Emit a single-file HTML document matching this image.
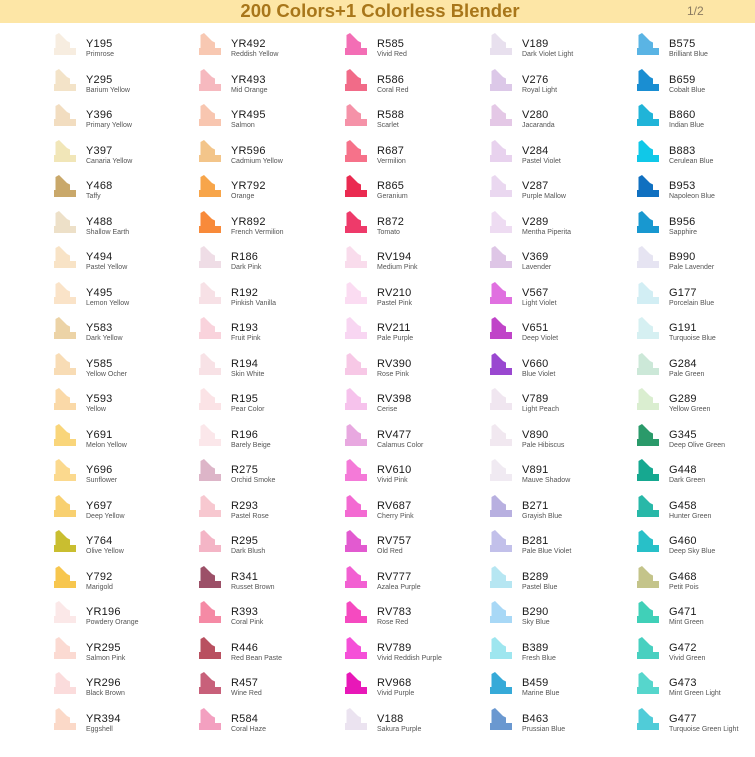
<!DOCTYPE html>
<html><head><meta charset="utf-8"><style>
*{margin:0;padding:0;box-sizing:border-box}
body{width:755px;height:757px;background:#fff;font-family:"Liberation Sans",sans-serif;position:relative;overflow:hidden}
.hd{position:absolute;left:0;top:0;width:755px;height:23px;background:#fde6a6}
.hd h1{position:absolute;left:0;width:760px;top:1px;text-align:center;font-size:18.5px;font-weight:bold;color:#a8761a;line-height:20px}
.hd span{position:absolute;left:687px;top:4px;font-size:12px;color:#8a7a60}
.col{position:absolute;top:33px}
.i{position:relative;height:35.53px}
.i svg{position:absolute;left:0;top:0;width:22px;height:22px}
.i b{position:absolute;left:32px;top:5px;font-size:11px;font-weight:normal;color:#1a1a1a;white-space:nowrap;letter-spacing:.2px}
.i s{position:absolute;left:32px;top:18px;font-size:7px;color:#555;text-decoration:none;white-space:nowrap}
</style></head><body>
<svg width="0" height="0" style="position:absolute"><defs><path id="m" d="M1.5,15 L1.5,2 L5,0 L13,8 L16,9.5 L16,15 L22,15 L22,22 L0,22 L0,15 Z"/></defs></svg>
<div class="hd"><h1>200 Colors+1 Colorless Blender</h1><span>1/2</span></div>

<div class="col" style="left:54px">
<div class="i"><svg fill="#f7ede0"><use href="#m"/></svg><b>Y195</b><s>Primrose</s></div>
<div class="i"><svg fill="#f3e3c8"><use href="#m"/></svg><b>Y295</b><s>Barium Yellow</s></div>
<div class="i"><svg fill="#f2ddc0"><use href="#m"/></svg><b>Y396</b><s>Primary Yellow</s></div>
<div class="i"><svg fill="#f1e6b8"><use href="#m"/></svg><b>Y397</b><s>Canaria Yellow</s></div>
<div class="i"><svg fill="#c9a86a"><use href="#m"/></svg><b>Y468</b><s>Taffy</s></div>
<div class="i"><svg fill="#ede0c8"><use href="#m"/></svg><b>Y488</b><s>Shallow Earth</s></div>
<div class="i"><svg fill="#f8e3c6"><use href="#m"/></svg><b>Y494</b><s>Pastel Yellow</s></div>
<div class="i"><svg fill="#fae3c8"><use href="#m"/></svg><b>Y495</b><s>Lemon Yellow</s></div>
<div class="i"><svg fill="#ecd3a6"><use href="#m"/></svg><b>Y583</b><s>Dark Yellow</s></div>
<div class="i"><svg fill="#f8dcb5"><use href="#m"/></svg><b>Y585</b><s>Yellow Ocher</s></div>
<div class="i"><svg fill="#fad9a8"><use href="#m"/></svg><b>Y593</b><s>Yellow</s></div>
<div class="i"><svg fill="#f9d57a"><use href="#m"/></svg><b>Y691</b><s>Melon Yellow</s></div>
<div class="i"><svg fill="#fbd98e"><use href="#m"/></svg><b>Y696</b><s>Sunflower</s></div>
<div class="i"><svg fill="#f8d070"><use href="#m"/></svg><b>Y697</b><s>Deep Yellow</s></div>
<div class="i"><svg fill="#c9be30"><use href="#m"/></svg><b>Y764</b><s>Olive Yellow</s></div>
<div class="i"><svg fill="#f7c64e"><use href="#m"/></svg><b>Y792</b><s>Marigold</s></div>
<div class="i"><svg fill="#fbe8e8"><use href="#m"/></svg><b>YR196</b><s>Powdery Orange</s></div>
<div class="i"><svg fill="#fbdad2"><use href="#m"/></svg><b>YR295</b><s>Salmon Pink</s></div>
<div class="i"><svg fill="#fbdcdc"><use href="#m"/></svg><b>YR296</b><s>Black Brown</s></div>
<div class="i"><svg fill="#fbd9c8"><use href="#m"/></svg><b>YR394</b><s>Eggshell</s></div>
</div>

<div class="col" style="left:199px">
<div class="i"><svg fill="#f8c8b2"><use href="#m"/></svg><b>YR492</b><s>Reddish Yellow</s></div>
<div class="i"><svg fill="#f6b9bf"><use href="#m"/></svg><b>YR493</b><s>Mid Orange</s></div>
<div class="i"><svg fill="#f8c6b0"><use href="#m"/></svg><b>YR495</b><s>Salmon</s></div>
<div class="i"><svg fill="#f3c58a"><use href="#m"/></svg><b>YR596</b><s>Cadmium Yellow</s></div>
<div class="i"><svg fill="#f7a54a"><use href="#m"/></svg><b>YR792</b><s>Orange</s></div>
<div class="i"><svg fill="#f88a3a"><use href="#m"/></svg><b>YR892</b><s>French Vermilion</s></div>
<div class="i"><svg fill="#efdde6"><use href="#m"/></svg><b>R186</b><s>Dark Pink</s></div>
<div class="i"><svg fill="#f7e1e6"><use href="#m"/></svg><b>R192</b><s>Pinkish Vanilla</s></div>
<div class="i"><svg fill="#f9d3dc"><use href="#m"/></svg><b>R193</b><s>Fruit Pink</s></div>
<div class="i"><svg fill="#f8e2e6"><use href="#m"/></svg><b>R194</b><s>Skin White</s></div>
<div class="i"><svg fill="#fbe3e6"><use href="#m"/></svg><b>R195</b><s>Pear Color</s></div>
<div class="i"><svg fill="#fbe7ea"><use href="#m"/></svg><b>R196</b><s>Barely Beige</s></div>
<div class="i"><svg fill="#ddb5c8"><use href="#m"/></svg><b>R275</b><s>Orchid Smoke</s></div>
<div class="i"><svg fill="#f7c8d0"><use href="#m"/></svg><b>R293</b><s>Pastel Rose</s></div>
<div class="i"><svg fill="#f4b5c6"><use href="#m"/></svg><b>R295</b><s>Dark Blush</s></div>
<div class="i"><svg fill="#9c5068"><use href="#m"/></svg><b>R341</b><s>Russet Brown</s></div>
<div class="i"><svg fill="#f58aa5"><use href="#m"/></svg><b>R393</b><s>Coral Pink</s></div>
<div class="i"><svg fill="#b95060"><use href="#m"/></svg><b>R446</b><s>Red Bean Paste</s></div>
<div class="i"><svg fill="#c8607a"><use href="#m"/></svg><b>R457</b><s>Wine Red</s></div>
<div class="i"><svg fill="#f3a0c0"><use href="#m"/></svg><b>R584</b><s>Coral Haze</s></div>
</div>

<div class="col" style="left:345px">
<div class="i"><svg fill="#f36eb5"><use href="#m"/></svg><b>R585</b><s>Vivid Red</s></div>
<div class="i"><svg fill="#f16b88"><use href="#m"/></svg><b>R586</b><s>Coral Red</s></div>
<div class="i"><svg fill="#f592a8"><use href="#m"/></svg><b>R588</b><s>Scarlet</s></div>
<div class="i"><svg fill="#f6728a"><use href="#m"/></svg><b>R687</b><s>Vermilion</s></div>
<div class="i"><svg fill="#ea2a50"><use href="#m"/></svg><b>R865</b><s>Geranium</s></div>
<div class="i"><svg fill="#ee3a6a"><use href="#m"/></svg><b>R872</b><s>Tomato</s></div>
<div class="i"><svg fill="#f9dcec"><use href="#m"/></svg><b>RV194</b><s>Medium Pink</s></div>
<div class="i"><svg fill="#fbdcf2"><use href="#m"/></svg><b>RV210</b><s>Pastel Pink</s></div>
<div class="i"><svg fill="#f8d6f2"><use href="#m"/></svg><b>RV211</b><s>Pale Purple</s></div>
<div class="i"><svg fill="#f7c8e6"><use href="#m"/></svg><b>RV390</b><s>Rose Pink</s></div>
<div class="i"><svg fill="#f6c2ec"><use href="#m"/></svg><b>RV398</b><s>Cerise</s></div>
<div class="i"><svg fill="#e8a8e0"><use href="#m"/></svg><b>RV477</b><s>Calamus Color</s></div>
<div class="i"><svg fill="#f47ad8"><use href="#m"/></svg><b>RV610</b><s>Vivid Pink</s></div>
<div class="i"><svg fill="#f36ad2"><use href="#m"/></svg><b>RV687</b><s>Cherry Pink</s></div>
<div class="i"><svg fill="#e25ad0"><use href="#m"/></svg><b>RV757</b><s>Old Red</s></div>
<div class="i"><svg fill="#f260d2"><use href="#m"/></svg><b>RV777</b><s>Azalea Purple</s></div>
<div class="i"><svg fill="#f54ac0"><use href="#m"/></svg><b>RV783</b><s>Rose Red</s></div>
<div class="i"><svg fill="#f550d8"><use href="#m"/></svg><b>RV789</b><s>Vivid Reddish Purple</s></div>
<div class="i"><svg fill="#e818b8"><use href="#m"/></svg><b>RV968</b><s>Vivid Purple</s></div>
<div class="i"><svg fill="#ebe3f0"><use href="#m"/></svg><b>V188</b><s>Sakura Purple</s></div>
</div>

<div class="col" style="left:490px">
<div class="i"><svg fill="#e8e0ee"><use href="#m"/></svg><b>V189</b><s>Dark Violet Light</s></div>
<div class="i"><svg fill="#dcc8e8"><use href="#m"/></svg><b>V276</b><s>Royal Light</s></div>
<div class="i"><svg fill="#e4c8e6"><use href="#m"/></svg><b>V280</b><s>Jacaranda</s></div>
<div class="i"><svg fill="#e8d2ee"><use href="#m"/></svg><b>V284</b><s>Pastel Violet</s></div>
<div class="i"><svg fill="#ead8f0"><use href="#m"/></svg><b>V287</b><s>Purple Mallow</s></div>
<div class="i"><svg fill="#eedcf2"><use href="#m"/></svg><b>V289</b><s>Mentha Piperita</s></div>
<div class="i"><svg fill="#dec6e6"><use href="#m"/></svg><b>V369</b><s>Lavender</s></div>
<div class="i"><svg fill="#e070e0"><use href="#m"/></svg><b>V567</b><s>Light Violet</s></div>
<div class="i"><svg fill="#c044c8"><use href="#m"/></svg><b>V651</b><s>Deep Violet</s></div>
<div class="i"><svg fill="#9a48d0"><use href="#m"/></svg><b>V660</b><s>Blue Violet</s></div>
<div class="i"><svg fill="#f0e6f0"><use href="#m"/></svg><b>V789</b><s>Light Peach</s></div>
<div class="i"><svg fill="#f1e8f0"><use href="#m"/></svg><b>V890</b><s>Pale Hibiscus</s></div>
<div class="i"><svg fill="#f0eaf2"><use href="#m"/></svg><b>V891</b><s>Mauve Shadow</s></div>
<div class="i"><svg fill="#b8b0e0"><use href="#m"/></svg><b>B271</b><s>Grayish Blue</s></div>
<div class="i"><svg fill="#c2c0ea"><use href="#m"/></svg><b>B281</b><s>Pale Blue Violet</s></div>
<div class="i"><svg fill="#b6e6f2"><use href="#m"/></svg><b>B289</b><s>Pastel Blue</s></div>
<div class="i"><svg fill="#a8d8f6"><use href="#m"/></svg><b>B290</b><s>Sky Blue</s></div>
<div class="i"><svg fill="#9ee6ef"><use href="#m"/></svg><b>B389</b><s>Fresh Blue</s></div>
<div class="i"><svg fill="#36aad8"><use href="#m"/></svg><b>B459</b><s>Marine Blue</s></div>
<div class="i"><svg fill="#6a98d0"><use href="#m"/></svg><b>B463</b><s>Prussian Blue</s></div>
</div>

<div class="col" style="left:637px">
<div class="i"><svg fill="#5ab4e4"><use href="#m"/></svg><b>B575</b><s>Brilliant Blue</s></div>
<div class="i"><svg fill="#1a8ed2"><use href="#m"/></svg><b>B659</b><s>Cobalt Blue</s></div>
<div class="i"><svg fill="#20b4d8"><use href="#m"/></svg><b>B860</b><s>Indian Blue</s></div>
<div class="i"><svg fill="#10c8e8"><use href="#m"/></svg><b>B883</b><s>Cerulean Blue</s></div>
<div class="i"><svg fill="#1070c0"><use href="#m"/></svg><b>B953</b><s>Napoleon Blue</s></div>
<div class="i"><svg fill="#1898d0"><use href="#m"/></svg><b>B956</b><s>Sapphire</s></div>
<div class="i"><svg fill="#e6e4f2"><use href="#m"/></svg><b>B990</b><s>Pale Lavender</s></div>
<div class="i"><svg fill="#d2eef4"><use href="#m"/></svg><b>G177</b><s>Porcelain Blue</s></div>
<div class="i"><svg fill="#d6f0f2"><use href="#m"/></svg><b>G191</b><s>Turquoise Blue</s></div>
<div class="i"><svg fill="#cce8d8"><use href="#m"/></svg><b>G284</b><s>Pale Green</s></div>
<div class="i"><svg fill="#daeed0"><use href="#m"/></svg><b>G289</b><s>Yellow Green</s></div>
<div class="i"><svg fill="#2a9a6a"><use href="#m"/></svg><b>G345</b><s>Deep Olive Green</s></div>
<div class="i"><svg fill="#16a890"><use href="#m"/></svg><b>G448</b><s>Dark Green</s></div>
<div class="i"><svg fill="#28b8a8"><use href="#m"/></svg><b>G458</b><s>Hunter Green</s></div>
<div class="i"><svg fill="#28c0c8"><use href="#m"/></svg><b>G460</b><s>Deep Sky Blue</s></div>
<div class="i"><svg fill="#c4c48a"><use href="#m"/></svg><b>G468</b><s>Petit Pois</s></div>
<div class="i"><svg fill="#40d0b8"><use href="#m"/></svg><b>G471</b><s>Mint Green</s></div>
<div class="i"><svg fill="#48d0c0"><use href="#m"/></svg><b>G472</b><s>Vivid Green</s></div>
<div class="i"><svg fill="#56d6cc"><use href="#m"/></svg><b>G473</b><s>Mint Green Light</s></div>
<div class="i"><svg fill="#50ccd8"><use href="#m"/></svg><b>G477</b><s>Turquoise Green Light</s></div>
</div>
</body></html>
